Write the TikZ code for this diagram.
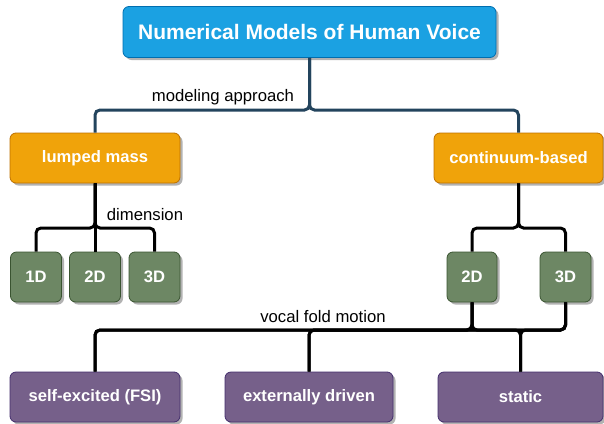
\documentclass[tikz,border=0pt]{standalone}
\usepackage{fontspec}
\setmainfont{Liberation Sans}
\usetikzlibrary{shadows}
\definecolor{bluefill}{HTML}{1BA1E2}
\definecolor{bluedraw}{HTML}{006EAF}
\definecolor{orfill}{HTML}{F0A30A}
\definecolor{ordraw}{HTML}{BD7000}
\definecolor{grfill}{HTML}{6D8764}
\definecolor{grdraw}{HTML}{3A5431}
\definecolor{pufill}{HTML}{76608A}
\definecolor{pudraw}{HTML}{432D6D}
\definecolor{navy}{HTML}{23445D}
\tikzset{
  box/.style={rectangle, rounded corners=6pt, line width=0.8pt, text=white,
    font=\fontsize{16.6}{20}\selectfont\bfseries, inner sep=0pt,
    drop shadow={shadow xshift=2.5pt, shadow yshift=-2.5pt, opacity=0.3, fill=black}},
  titlebox/.style={box, fill=bluefill, draw=bluedraw, font=\fontsize{21}{25}\selectfont\bfseries},
  orbox/.style={box, fill=orfill, draw=ordraw, minimum height=50pt},
  grbox/.style={box, fill=grfill, draw=grdraw, minimum height=50pt},
  pubox/.style={box, fill=pufill, draw=pudraw, minimum height=50pt},
  edge/.style={line width=3pt, draw=black, rounded corners=5pt},
  topedge/.style={edge, draw=navy},
  lbl/.style={font=\fontsize{16.7}{20}\selectfont, text=black, inner sep=0pt}
}
\begin{document}
\begin{tikzpicture}[x=1pt,y=-1pt]
\useasboundingbox (0,0) rectangle (604,423);
\coordinate (busTop) at (0,110);
\coordinate (busL) at (0,228);
\coordinate (busB) at (0,330);
% nodes
\node[titlebox, minimum width=373pt, minimum height=51pt] (top) at (309.5,32) {Numerical Models of Human Voice};
\node[orbox, minimum width=170pt] (lumped) at (95,158) {lumped mass};
\node[orbox, minimum width=169pt] (cont) at (518.5,158) {continuum-based};
\node[grbox, minimum width=51pt] (l1) at (36,277) {1D};
\node[grbox, minimum width=51pt] (l2) at (95,277) {2D};
\node[grbox, minimum width=51pt] (l3) at (154.5,277) {3D};
\node[grbox, minimum width=50pt] (r2) at (472,277) {2D};
\node[grbox, minimum width=51pt] (r3) at (565.5,277) {3D};
\node[pubox, minimum width=170pt] (self) at (95,397) {self-excited (FSI)};
\node[pubox, minimum width=168pt] (ext) at (309,397) {externally driven};
\node[pubox, minimum width=165pt] (stat) at (520.5,397) {static};
% edges
\begin{scope}[on background layer/.style={}]
\draw[topedge] (top.south) -- (top.south |- busTop) -| (lumped.north);
\draw[topedge] (top.south) -- (top.south |- busTop) -| (cont.north);
\draw[edge] (lumped.south) -- (lumped.south |- busL) -| (l1.north);
\draw[edge] (lumped.south) -- (l2.north);
\draw[edge] (lumped.south) -- (lumped.south |- busL) -| (l3.north);
\draw[edge] (cont.south) -- (cont.south |- busL) -| (r2.north);
\draw[edge] (cont.south) -- (cont.south |- busL) -| (r3.north);
\foreach \s in {r2,r3}{
  \foreach \t in {self,ext,stat}{
    \draw[edge] (\s.south) -- (\s.south |- busB) -| (\t.north);
  }
}
\end{scope}
% labels
\node[lbl] (lapp) at (223,97) {modeling approach};
\node[lbl] (ldim) at (145,215) {dimension};
\node[lbl] (lvfm) at (323,317) {vocal fold motion};
\end{tikzpicture}
\end{document}
